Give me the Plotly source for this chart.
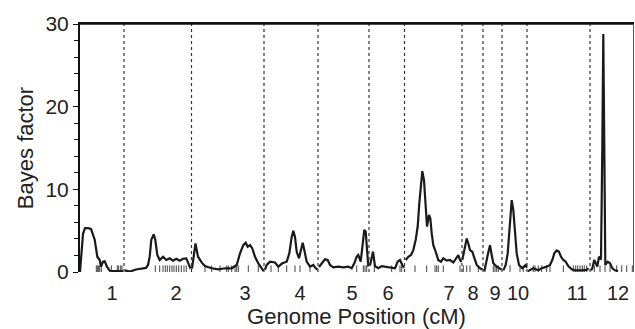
import plotly.graph_objects as go

# ---- data (x in cM, y = Bayes factor), one list pair per chromosome ----
chr1_x = [0, 3, 6, 10, 16, 22, 29.4, 34.6, 39.4, 42, 46, 49.4, 54, 59.4, 66, 76, 86]
chr1_y = [0, 2.5, 4.6, 5.3, 5.3, 5.2, 3.9, 1.85, 1.45, 0.65, 1.25, 1.3, 0.65, 0.15, 0.1, 0.1, 0.1]
chr2_x = [89.4, 100, 112, 124, 132, 136, 139.4, 142.6, 147.4, 150.6, 154.6, 159.4, 166, 172.6, 179.4, 186, 192.6, 199.4, 206, 212.6, 217.4, 221]
chr2_y = [0.2, 0.05, 0.3, 0.45, 0.5, 0.85, 1.85, 3.9, 4.55, 3.9, 2.05, 1.45, 1.85, 1.45, 1.65, 1.37, 1.6, 1.37, 1.6, 1.65, 1.05, 0.4]
chr3_x = [224, 227, 231, 236, 244, 250, 263.4, 276.6, 290, 303.4, 313.4, 320, 326.6, 331.4, 335.4, 340, 344.6, 350, 356.6, 363.4, 367]
chr3_y = [0.4, 2.0, 3.45, 1.85, 1.1, 0.72, 0.45, 0.33, 0.45, 0.45, 0.85, 2.25, 3.25, 3.55, 3.05, 3.25, 2.85, 1.85, 1.05, 0.45, 0.1]
chr4_x = [370, 373.4, 380, 390, 396.6, 404.6, 413.4, 418.6, 423.4, 426.6, 430, 433.4, 438, 442, 445.4, 448.6, 453.4, 460, 466.6, 471.4, 475]
chr4_y = [0.3, 0.85, 1.25, 1.15, 0.65, 1.05, 1.25, 2.25, 4.25, 5.0, 4.25, 2.45, 1.65, 2.65, 3.55, 2.65, 1.25, 0.65, 0.85, 0.45, 0.3]
chr5_x = [478, 483.4, 490, 495.4, 500, 506.6, 516.6, 526.6, 536.6, 543.4, 548.6, 553.4, 556.6, 561.4, 564.6, 568.6, 571.4, 574, 576.6]
chr5_y = [0.6, 1.05, 1.53, 1.45, 0.85, 0.57, 0.65, 0.57, 0.65, 0.45, 1.05, 1.85, 2.05, 1.25, 3.05, 5.1, 4.9, 2.65, 0.65]
chr6_x = [580, 586, 590, 596.6, 603.4, 613.4, 623.4, 630, 635.4, 640, 644.6, 648]
chr6_y = [0.8, 2.45, 0.72, 0.45, 0.72, 0.65, 0.57, 0.45, 1.25, 1.45, 0.85, 0.5]
chr7_x = [651.4, 656.6, 662, 666.6, 671.4, 675.4, 678.6, 682, 684.6, 688, 691.4, 694, 698, 700.6, 703.4, 706.6, 711.4, 716.6, 722, 726.6, 733.4, 740, 746.6, 753.4, 756.6, 760, 763]
chr7_y = [1.45, 1.85, 2.05, 2.65, 3.9, 5.5, 8.3, 11.1, 12.2, 11.1, 7.5, 5.5, 6.9, 6.5, 4.7, 3.25, 2.45, 1.45, 1.25, 1.65, 1.37, 1.45, 1.15, 1.85, 2.05, 1.45, 1.2]
chr8_x = [764.6, 768.6, 773.4, 776.6, 780, 784.6, 788.6, 793.4, 800, 805]
chr8_y = [1.45, 2.85, 4.05, 3.45, 2.65, 2.45, 1.65, 0.85, 0.45, 0.3]
chr9_x = [808, 810, 815.4, 820, 823.4, 826.6, 833.4, 840, 843]
chr9_y = [0.1, 0.45, 2.05, 3.25, 2.05, 1.05, 0.65, 0.45, 0.3]
chr10_x = [846.6, 851.4, 855.4, 858, 860.6, 863.4, 866.6, 870, 873.4, 878, 884.6, 891.4, 893.4]
chr10_y = [0.2, 0.85, 2.25, 4.7, 7.1, 8.7, 7.5, 4.7, 2.25, 0.85, 0.45, 0.85, 0.5]
chr11_x = [896, 900, 906.6, 916.6, 923.4, 933.4, 940, 944.6, 948.6, 953.4, 958, 962, 966.6, 971.4, 976.6, 983.4, 990, 1003.4, 1013.4, 1017]
chr11_y = [0.1, 0.2, 0.45, 0.2, 0.45, 0.65, 0.85, 1.45, 2.25, 2.6, 2.45, 1.85, 1.45, 1.25, 0.72, 0.33, 0.2, 0.2, 0.25, 0.45]
chr12_x = [1022, 1024.6, 1028.6, 1031.4, 1034.6, 1038, 1042, 1044.6, 1046.6, 1048.6, 1050.6, 1055.4, 1060, 1064.6, 1070, 1076]
chr12_y = [0.2, 0.45, 1.45, 1.05, 0.65, 1.85, 1.5, 15, 28.8, 15, 0.85, 1.25, 1.05, 0.45, 0.2, 0.1]

# chromosome boundaries (cM) and label positions
boundaries = [88, 223, 368, 476, 578, 649, 764, 806, 844, 894, 1020]
label_pos = [64, 192, 330, 440, 544, 616, 738, 786, 830, 876, 994, 1076]
label_text = ["1", "2", "3", "4", "5", "6", "7", "8", "9", "10", "11", "12"]

# marker positions (cM) shown as a rug along the bottom
markers = [32.6, 34.6, 37.4, 39.4, 42.6, 62.6, 74.6, 77.4, 81.4, 84,
           150.6, 159.4, 166, 170.6, 174.6, 179.4, 184, 188, 192.6, 197.4, 202.6, 208, 212.6,
           250, 263.4, 280, 293.4, 296.6, 303.4, 310, 313.4, 316.6, 336.6, 356.6,
           382, 396.6, 413.4, 430, 440, 460,
           553.4, 566.6, 570, 573.4,
           588.6, 623.4, 640, 643.4,
           670, 693.4, 710, 713.4, 716.6, 726.6, 760,
           766.6, 773.4, 780, 796.6,
           810, 826.6, 830, 833.4, 836.6,
           860, 880, 886.6,
           906.6, 910, 916.6, 923.4, 933.4, 940, 966.6, 986.6, 991.4, 995.4, 1000, 1004.6, 1008.6, 1013.4,
           1028.6, 1040, 1050, 1060, 1073.4, 1083.4, 1093.4, 1104.6]

chroms = [(chr1_x, chr1_y), (chr2_x, chr2_y), (chr3_x, chr3_y), (chr4_x, chr4_y),
          (chr5_x, chr5_y), (chr6_x, chr6_y), (chr7_x, chr7_y), (chr8_x, chr8_y),
          (chr9_x, chr9_y), (chr10_x, chr10_y), (chr11_x, chr11_y), (chr12_x, chr12_y)]

X_MAX = 1106
FONT = "Liberation Sans, Arial, Helvetica, sans-serif"

fig = go.Figure()

# rug of marker positions
rx, ry = [], []
for m in markers:
    rx += [m, m, None]
    ry += [0, 0.8, None]
fig.add_trace(go.Scatter(x=rx, y=ry, mode="lines",
                         line=dict(color="#444444", width=1),
                         hoverinfo="skip", showlegend=False))

# Bayes factor curve (broken between chromosomes)
cx, cy = [], []
for xs, ys in chroms:
    cx += list(xs) + [None]
    cy += list(ys) + [None]
fig.add_trace(go.Scatter(x=cx, y=cy, mode="lines",
                         line=dict(color="#1a1a1a", width=2.2),
                         showlegend=False))

# empty trace that registers the overlay axes used for the top/right frame
fig.add_trace(go.Scatter(x=[None], y=[None], xaxis="x2", yaxis="y2", mode="lines",
                         hoverinfo="skip", showlegend=False))

# chromosome boundaries
for b in boundaries:
    fig.add_shape(type="line", xref="x", yref="paper", x0=b, x1=b, y0=0, y1=1,
                  line=dict(color="#333333", width=1.2, dash="dot"))
# top frame line (fallback)
fig.add_shape(type="line", xref="paper", yref="paper", x0=0, x1=1, y0=1, y1=1,
              layer="above", line=dict(color="#111111", width=1.5))

fig.update_layout(
    width=635, height=329,
    margin=dict(l=80, r=2, t=24, b=57, autoexpand=False),
    paper_bgcolor="white", plot_bgcolor="white",
    font=dict(family=FONT, size=20, color="#222222"),
    xaxis=dict(range=[0, X_MAX], showgrid=False, zeroline=False, showline=False,
               automargin=False,
               tickmode="array", tickvals=label_pos, ticktext=label_text,
               ticks="outside", ticklen=3, tickcolor="rgba(0,0,0,0)",
               tickfont=dict(size=20),
               title=dict(text="Genome Position (cM)", font=dict(size=22), standoff=6)),
    yaxis=dict(range=[0, 30], showgrid=False, zeroline=False, automargin=False,
               showline=True, linecolor="#111111", linewidth=2,
               tickmode="linear", tick0=0, dtick=10,
               ticks="outside", ticklen=5, tickwidth=1.2, tickcolor="#111111",
               minor=dict(dtick=2, ticks="outside", ticklen=4, tickcolor="#111111", tickwidth=1),
               tickfont=dict(size=21),
               title=dict(text="Bayes factor", font=dict(size=22), standoff=6)),
    # frame: top and right edges
    xaxis2=dict(overlaying="x", side="top", anchor="y2", range=[0, X_MAX],
                showline=True, linecolor="#111111", linewidth=1.5,
                showticklabels=False, ticks="", showgrid=False, zeroline=False,
                automargin=False),
    yaxis2=dict(overlaying="y", side="right", anchor="x2", range=[0, 30],
                showline=True, linecolor="#555555", linewidth=1.2,
                showticklabels=False, ticks="", showgrid=False, zeroline=False,
                automargin=False),
)

fig.write_html("out.html", config={"displayModeBar": False},
               post_script="document.body.style.margin='0';document.body.style.padding='0';document.body.style.overflow='hidden';")
